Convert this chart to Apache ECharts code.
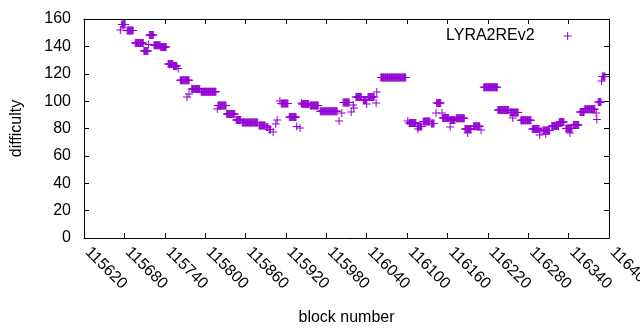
<!DOCTYPE html>
<html>
<head>
<meta charset="utf-8">
<script src="https://cdn.jsdelivr.net/npm/echarts@6/dist/echarts.min.js"></script>
<style>
  html, body { margin: 0; padding: 0; background: #fff; }
  #main { width: 640px; height: 330px; }
</style>
</head>
<body>
<div id="main"></div>
<script>
// each run = consecutive blocks sharing one difficulty value
var runFirst = [
	115674, 115676, 115684, 115696, 115709, 115716, 115717, 115724, 115734, 115745,
	115753, 115760, 115763, 115773, 115776, 115780, 115794, 115818, 115819, 115832,
	115846, 115855, 115880, 115891, 115895, 115901, 115905, 115907, 115911, 115913,
	115925, 115936, 115941, 115943, 115944, 115956, 115971, 115999, 116003, 116005,
	116017, 116020, 116021, 116024, 116035, 116040, 116042, 116054, 116055, 116061,
	116101, 116103, 116115, 116116, 116124, 116136, 116143, 116144, 116152, 116153,
	116164, 116164, 116173, 116186, 116190, 116199, 116210, 116214, 116235, 116253,
	116257, 116269, 116286, 116297, 116299, 116302, 116306, 116315, 116326, 116336,
	116342, 116347, 116357, 116364, 116381, 116382, 116384, 116389, 116390
];
var runLast = [
	115674, 115681, 115693, 115708, 115715, 115716, 115723, 115733, 115742, 115752,
	115758, 115760, 115776, 115773, 115776, 115792, 115816, 115818, 115831, 115844,
	115853, 115878, 115889, 115893, 115897, 115901, 115905, 115907, 115911, 115923,
	115935, 115936, 115941, 115943, 115954, 115968, 115996, 115999, 116003, 116014,
	116017, 116020, 116021, 116032, 116039, 116040, 116051, 116054, 116055, 116098,
	116101, 116113, 116122, 116116, 116134, 116140, 116143, 116150, 116152, 116162,
	116171, 116164, 116185, 116195, 116190, 116208, 116210, 116234, 116251, 116265,
	116257, 116284, 116296, 116297, 116299, 116312, 116306, 116325, 116333, 116345,
	116342, 116355, 116363, 116379, 116381, 116382, 116388, 116389, 116394
];
var runDiff = [
	152.0, 156.0, 151.6, 142.5, 136.6, 141.4, 148.3, 140.8, 139.5, 127.1,
	125.7, 123.8, 115.2, 103.0, 105.2, 108.9, 106.9, 94.2, 96.8, 90.6,
	86.2, 84.4, 82.2, 81.1, 79.3, 77.4, 83.3, 86.2, 100.1, 98.3,
	88.4, 81.5, 80.4, 98.6, 97.9, 96.8, 92.6, 85.5, 91.3, 99.0,
	92.1, 97.2, 95.0, 103.0, 100.8, 97.9, 103.0, 98.6, 106.7, 117.3,
	85.5, 84.0, 81.5, 79.6, 85.1, 83.7, 91.3, 98.6, 91.3, 87.7,
	86.2, 81.1, 87.5, 79.6, 76.7, 81.6, 78.9, 110.1, 93.5, 91.7,
	87.7, 86.0, 79.6, 75.3, 78.2, 78.5, 76.0, 81.8, 84.7, 80.0,
	76.7, 82.6, 92.1, 94.0, 91.3, 86.6, 99.4, 114.7, 118.0
];

var xTicks = { min: 115620, max: 116400, interval: 60 };
var yTicks = { min: 0, max: 160, interval: 20 };
var seriesName = 'LYRA2REv2';

var points = [];
for (var i = 0; i < runFirst.length; i++) {
	for (var b = runFirst[i]; b <= runLast[i]; b++) {
		points.push([b, runDiff[i]]);
	}
}

var plus = 'path://M3.5,0h1v3.5h3.5v1h-3.5v3.5h-1v-3.5h-3.5v-1h3.5z';
var font = 'Liberation Sans, Arial, sans-serif';
var black = '#000';

var option = {
	animation: false,
	grid: { left: 84, right: 31, top: 19, bottom: 92, containLabel: false, outerBoundsMode: 'none' },
	legend: {
		data: [{ name: seriesName, icon: plus }],
		left: 441,
		top: 23,
		align: 'right',
		itemWidth: 56,
		itemHeight: 8,
		textStyle: { color: black, fontSize: 16, fontFamily: font },
		selectedMode: false
	},
	xAxis: [{
		type: 'value',
		min: xTicks.min, max: xTicks.max, interval: xTicks.interval,
		position: 'bottom',
		name: 'block number',
		nameLocation: 'middle',
		nameGap: 72,
		nameTextStyle: { color: black, fontSize: 16, fontFamily: font },
		axisLine: { onZero: false, lineStyle: { color: black, width: 1 } },
		axisTick: { inside: true, length: 5, lineStyle: { color: black } },
		axisLabel: {
			rotate: -45, margin: 8, padding: [0, 0, 0, 5],
			color: black, fontSize: 16, fontFamily: font,
			showMaxLabel: true, showMinLabel: true,
			formatter: function (v) { return String(v); }
		},
		splitLine: { show: false }
	}, {
		type: 'value',
		min: xTicks.min, max: xTicks.max, interval: xTicks.interval,
		position: 'top',
		axisLine: { onZero: false, lineStyle: { color: black, width: 1 } },
		axisTick: { inside: true, length: 5, lineStyle: { color: black } },
		axisLabel: { show: false },
		splitLine: { show: false }
	}],
	yAxis: [{
		type: 'value',
		min: yTicks.min, max: yTicks.max, interval: yTicks.interval,
		position: 'left',
		name: 'difficulty',
		nameLocation: 'middle',
		nameRotate: 90,
		nameGap: 59,
		nameTextStyle: { color: black, fontSize: 16, fontFamily: font },
		axisLine: { onZero: false, lineStyle: { color: black, width: 1 } },
		axisTick: { inside: true, length: 5, lineStyle: { color: black } },
		axisLabel: { margin: 13, color: black, fontSize: 16, fontFamily: font },
		splitLine: { show: false }
	}, {
		type: 'value',
		min: yTicks.min, max: yTicks.max, interval: yTicks.interval,
		position: 'right',
		axisLine: { onZero: false, lineStyle: { color: black, width: 1 } },
		axisTick: { inside: true, length: 5, lineStyle: { color: black } },
		axisLabel: { show: false },
		splitLine: { show: false }
	}],
	series: [{
		name: seriesName,
		type: 'scatter',
		xAxisIndex: 0,
		yAxisIndex: 0,
		data: points,
		symbol: plus,
		symbolSize: 8,
		silent: true,
		itemStyle: { color: '#9400d3', opacity: 1 }
	}]
};

var chart = echarts.init(document.getElementById('main'), null, { renderer: 'canvas' });
chart.setOption(option);
</script>
</body>
</html>
